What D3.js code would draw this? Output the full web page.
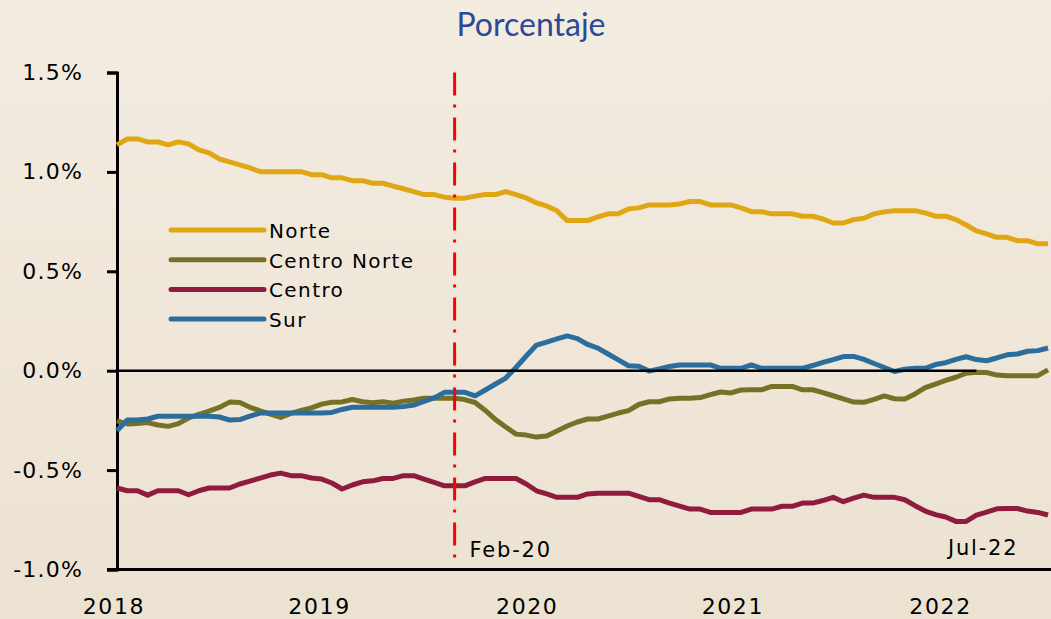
<!DOCTYPE html>
<html>
<head>
<meta charset="utf-8">
<script src="https://cdn.jsdelivr.net/npm/d3@7"></script>
<style>
  html, body { margin: 0; padding: 0; }
  body { width: 1051px; height: 619px; overflow: hidden; }
  text { font-family: "DejaVu Sans", Verdana, sans-serif; fill: #000; }
</style>
</head>
<body>
<div id="chart"></div>
<script>
// Data (percent), one point per period
var norte = [1.136, 1.166, 1.166, 1.151, 1.151, 1.136, 1.151, 1.141, 1.111, 1.096,
  1.065, 1.050, 1.035, 1.020, 1.001, 1.001, 1.001, 1.001, 1.001, 0.986,
  0.986, 0.970, 0.970, 0.956, 0.956, 0.943, 0.943, 0.928, 0.915, 0.901,
  0.886, 0.886, 0.873, 0.868, 0.868, 0.878, 0.886, 0.886, 0.901, 0.886,
  0.869, 0.844, 0.829, 0.804, 0.755, 0.755, 0.755, 0.774, 0.789, 0.789,
  0.814, 0.819, 0.834, 0.834, 0.834, 0.839, 0.851, 0.851, 0.834, 0.834,
  0.834, 0.819, 0.800, 0.800, 0.789, 0.789, 0.789, 0.777, 0.777, 0.763,
  0.743, 0.743, 0.760, 0.767, 0.789, 0.799, 0.805, 0.805, 0.805, 0.794,
  0.777, 0.777, 0.760, 0.733, 0.703, 0.688, 0.671, 0.671, 0.654, 0.654,
  0.638, 0.638];

var centroNorte = [-0.252, -0.268, -0.265, -0.261, -0.273, -0.280, -0.266, -0.238, -0.220, -0.203,
  -0.185, -0.158, -0.160, -0.184, -0.202, -0.218, -0.235, -0.215, -0.200, -0.187,
  -0.168, -0.159, -0.157, -0.145, -0.156, -0.161, -0.156, -0.163, -0.153, -0.147,
  -0.139, -0.139, -0.139, -0.139, -0.145, -0.160, -0.200, -0.246, -0.283, -0.319,
  -0.324, -0.334, -0.329, -0.303, -0.278, -0.258, -0.243, -0.243, -0.228, -0.213,
  -0.201, -0.170, -0.156, -0.156, -0.142, -0.139, -0.139, -0.135, -0.120, -0.107,
  -0.112, -0.097, -0.096, -0.096, -0.079, -0.079, -0.079, -0.096, -0.096, -0.110,
  -0.126, -0.142, -0.158, -0.159, -0.144, -0.127, -0.141, -0.142, -0.117, -0.085,
  -0.067, -0.049, -0.033, -0.013, -0.008, -0.009, -0.022, -0.025, -0.025, -0.025,
  -0.025, 0.004];

var centro = [-0.590, -0.604, -0.604, -0.626, -0.604, -0.604, -0.604, -0.624, -0.604, -0.590,
  -0.590, -0.590, -0.570, -0.555, -0.540, -0.525, -0.515, -0.528, -0.528, -0.540,
  -0.545, -0.565, -0.595, -0.575, -0.559, -0.554, -0.542, -0.542, -0.528, -0.528,
  -0.545, -0.562, -0.579, -0.579, -0.579, -0.559, -0.542, -0.542, -0.542, -0.542,
  -0.570, -0.604, -0.620, -0.637, -0.637, -0.637, -0.620, -0.616, -0.616, -0.616,
  -0.616, -0.632, -0.649, -0.649, -0.666, -0.681, -0.696, -0.696, -0.713, -0.713,
  -0.713, -0.713, -0.696, -0.696, -0.696, -0.682, -0.682, -0.666, -0.666, -0.653,
  -0.637, -0.659, -0.641, -0.626, -0.637, -0.637, -0.637, -0.649, -0.679, -0.706,
  -0.724, -0.736, -0.758, -0.758, -0.726, -0.711, -0.695, -0.693, -0.693, -0.706,
  -0.713, -0.726];

var sur = [-0.302, -0.248, -0.248, -0.243, -0.229, -0.229, -0.229, -0.229, -0.229, -0.229,
  -0.233, -0.248, -0.246, -0.228, -0.213, -0.213, -0.213, -0.213, -0.213, -0.213,
  -0.213, -0.210, -0.195, -0.184, -0.184, -0.184, -0.184, -0.184, -0.180, -0.173,
  -0.155, -0.137, -0.109, -0.109, -0.109, -0.127, -0.097, -0.067, -0.037, 0.016,
  0.074, 0.129, 0.144, 0.160, 0.175, 0.161, 0.132, 0.114, 0.084, 0.054,
  0.025, 0.022, -0.002, 0.009, 0.021, 0.029, 0.029, 0.029, 0.029, 0.012,
  0.012, 0.012, 0.029, 0.012, 0.012, 0.012, 0.012, 0.012, 0.026, 0.042,
  0.056, 0.071, 0.072, 0.057, 0.036, 0.016, -0.004, 0.007, 0.012, 0.012,
  0.031, 0.040, 0.057, 0.070, 0.056, 0.050, 0.064, 0.080, 0.084, 0.098,
  0.101, 0.114];

var seriesNames = ["Norte", "Centro Norte", "Centro", "Sur"];
var seriesColors = ["#e1a614", "#767126", "#8f1c3c", "#2b6d9c"];

var yTicks = [1.5, 1.0, 0.5, 0.0, -0.5, -1.0];
var yearLabels = ["2018", "2019", "2020", "2021", "2022"];
var yearPos = [-0.4, 19.7, 40, 60.1, 80.4]; // position on the period index
var markerPos = 33;      // Feb-20 vertical line
var zeroLineEnd = 84;    // zero line stops here

var width = 1051, height = 619;

var svg = d3.select("#chart").append("svg")
    .attr("width", width)
    .attr("height", height);

// background gradient
var grad = svg.append("defs").append("linearGradient")
    .attr("id", "bg")
    .attr("x1", 0).attr("y1", 0).attr("x2", 0).attr("y2", 1);
grad.append("stop").attr("offset", "0%").attr("stop-color", "#f3ece1");
grad.append("stop").attr("offset", "100%").attr("stop-color", "#ece2d2");

svg.append("rect")
    .attr("width", width)
    .attr("height", height)
    .attr("fill", "url(#bg)");

var xScale = d3.scaleLinear()
    .domain([0, norte.length - 1])
    .range([117, 1048]);

var yScale = d3.scaleLinear()
    .domain([-1.0, 1.5])
    .range([569.5, 72.5]);

// title
svg.append("text")
    .attr("x", 531)
    .attr("y", 36)
    .attr("text-anchor", "middle")
    .style("font-family", "Lato, 'Open Sans', sans-serif")
    .style("font-size", "32px")
    .style("fill", "#2d4996")
    .text("Porcentaje");

// y axis
var yAxis = d3.axisLeft(yScale)
    .tickValues(yTicks)
    .tickSize(10)
    .tickFormat(d => d.toFixed(1) + "%");

var gy = svg.append("g")
    .attr("transform", "translate(117,0)")
    .call(yAxis);
gy.select(".domain").attr("stroke", "#000").attr("stroke-width", 3);
gy.selectAll(".tick line").attr("stroke", "#000").attr("stroke-width", 3);
gy.selectAll(".tick text")
    .attr("x", -34)
    .style("font-family", "'DejaVu Sans', sans-serif")
    .style("font-size", "22px")
    .style("letter-spacing", "1.2px")
    .style("fill", "#000");

// bottom axis line
svg.append("line")
    .attr("x1", 107)
    .attr("x2", width)
    .attr("y1", yScale(-1.0))
    .attr("y2", yScale(-1.0))
    .attr("stroke", "#000")
    .attr("stroke-width", 3);

// year labels
svg.selectAll(".year")
    .data(yearLabels)
    .enter()
    .append("text")
    .attr("class", "year")
    .attr("x", (d, i) => xScale(yearPos[i]) + 1)
    .attr("y", 614)
    .attr("text-anchor", "middle")
    .style("font-size", "22px")
    .style("letter-spacing", "1.6px")
    .text(d => d);

// series lines
var allSeries = [norte, centroNorte, centro, sur];
var line = d3.line()
    .x((d, i) => xScale(i))
    .y(d => yScale(d));

svg.selectAll(".series")
    .data(allSeries)
    .enter()
    .append("path")
    .attr("class", "series")
    .attr("d", d => line(d))
    .attr("fill", "none")
    .attr("stroke", (d, i) => seriesColors[i])
    .attr("stroke-width", 5)
    .attr("stroke-linejoin", "round");

// zero line
svg.append("line")
    .attr("x1", xScale(0))
    .attr("x2", xScale(zeroLineEnd))
    .attr("y1", yScale(0))
    .attr("y2", yScale(0))
    .attr("stroke", "#000")
    .attr("stroke-width", 2.5);

// Feb-20 marker
svg.append("line")
    .attr("x1", xScale(markerPos))
    .attr("x2", xScale(markerPos))
    .attr("y1", yScale(1.5))
    .attr("y2", 558)
    .attr("stroke", "#ff0000")
    .attr("stroke-width", 3)
    .attr("stroke-dasharray", "23,9,3,10");

svg.append("text")
    .attr("x", xScale(markerPos) + 15)
    .attr("y", 557)
    .style("font-size", "21px")
    .style("letter-spacing", "1.8px")
    .text("Feb-20");

svg.append("text")
    .attr("x", 948)
    .attr("y", 555)
    .style("font-size", "21px")
    .style("letter-spacing", "1.8px")
    .text("Jul-22");

// legend
var legend = svg.selectAll(".legend")
    .data(seriesNames)
    .enter()
    .append("g")
    .attr("class", "legend")
    .attr("transform", (d, i) => "translate(171," + (230 + i * 29.7) + ")");

legend.append("line")
    .attr("x1", 0)
    .attr("x2", 93)
    .attr("stroke", (d, i) => seriesColors[i])
    .attr("stroke-width", 5)
    .attr("stroke-linecap", "round");

legend.append("text")
    .attr("x", 98)
    .attr("y", 8)
    .style("font-size", "20px")
    .style("letter-spacing", "1.4px")
    .text(d => d);
</script>
</body>
</html>
